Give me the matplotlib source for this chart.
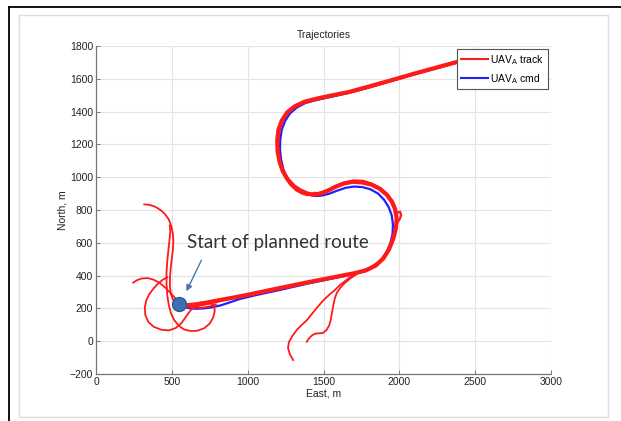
import matplotlib
matplotlib.use("Agg")
import matplotlib.pyplot as plt
from matplotlib.lines import Line2D

# ---- data (East, North in metres) ----
cmd_east = [548, 575, 610, 660, 710, 760, 820, 880, 950, 1050, 1200, 1400, 1600, 1700, 1780, 1840,
            1885, 1915, 1940, 1955, 1958, 1950, 1930, 1900, 1860, 1810, 1755, 1700, 1645, 1590,
            1540, 1490, 1450, 1410, 1370, 1330, 1290, 1258, 1235, 1220, 1213, 1215, 1225, 1248,
            1280, 1325, 1380, 1450, 1550, 1670, 1800, 1950, 2100, 2250, 2400]
cmd_north = [229, 212, 202, 198, 200, 206, 218, 236, 258, 280, 310, 352, 390, 408, 428, 455,
             495, 540, 595, 652, 712, 767, 817, 862, 900, 926, 940, 943, 935, 918,
             900, 888, 885, 892, 908, 928, 958, 1000, 1050, 1110, 1170, 1230, 1290, 1345,
             1390, 1425, 1452, 1470, 1490, 1515, 1547, 1588, 1628, 1666, 1704]

track1_east = [560, 600, 660, 720, 800, 900, 1000, 1200, 1400, 1600, 1700, 1780, 1845, 1895, 1932,
               1960, 1978, 1982, 1972, 1950, 1915, 1870, 1815, 1755, 1695, 1635, 1580, 1530, 1480,
               1435, 1395, 1350, 1305, 1265, 1232, 1210, 1197, 1195, 1203, 1225, 1260, 1310, 1375,
               1450, 1550, 1670, 1800, 1950, 2100, 2250, 2400, 2500]
track1_north = [225, 220, 224, 234, 248, 265, 283, 322, 360, 396, 414, 432, 462, 505, 560,
                625, 690, 750, 805, 852, 895, 930, 955, 968, 972, 962, 942, 918, 900,
                893, 900, 918, 945, 985, 1035, 1095, 1160, 1225, 1290, 1345, 1395, 1432, 1460,
                1478, 1498, 1520, 1553, 1592, 1632, 1670, 1708, 1732]

track2_east = [600, 660, 740, 850, 1000, 1200, 1400, 1600, 1720, 1810, 1875, 1920, 1950, 1970, 1985,
               2003, 2012, 2005, 1990, 1980, 1978, 1960, 1925, 1878, 1820, 1760, 1700, 1640, 1590,
               1545, 1500, 1460, 1440, 1420, 1395, 1360, 1320, 1280, 1245, 1220, 1205, 1200, 1207,
               1228, 1262, 1315, 1385, 1470, 1570, 1680, 1810, 1960, 2110, 2260, 2410, 2500]
track2_north = [212, 214, 228, 252, 278, 318, 356, 392, 418, 448, 492, 548, 610, 670, 720,
                745, 768, 790, 785, 770, 800, 845, 892, 932, 960, 978, 980, 968, 950,
                930, 912, 902, 905, 895, 890, 900, 920, 955, 1005, 1065, 1130, 1200, 1275,
                1340, 1392, 1432, 1458, 1476, 1496, 1518, 1550, 1590, 1630, 1668, 1706, 1728]

hook_east = [318, 350, 390, 425, 455, 480, 497, 507, 510, 507, 500, 493, 488, 487, 493, 507, 530,
             560, 620]
hook_north = [834, 832, 820, 800, 775, 742, 700, 655, 610, 560, 505, 450, 395, 340, 290, 255, 232,
              218, 214]

spike_east = [486, 490, 485, 478, 470, 465, 465, 470, 480, 495, 515, 545, 580, 625, 670, 715, 750,
              773, 783, 778, 755, 715, 665, 610, 565]
spike_north = [706, 670, 620, 560, 490, 420, 350, 280, 220, 168, 130, 95, 72, 62, 64, 80, 108,
               145, 185, 215, 232, 238, 232, 222, 225]

left_east = [245, 270, 300, 340, 380, 420, 455, 490, 520, 550, 585, 630, 690, 750, 790]
left_north = [357, 372, 382, 385, 375, 355, 328, 295, 265, 240, 220, 207, 203, 212, 225]

loop_east = [470, 440, 410, 380, 352, 332, 322, 325, 345, 380, 430, 480, 525, 565, 597, 625, 660, 720]
loop_north = [390, 375, 352, 322, 288, 250, 205, 160, 118, 88, 70, 66, 80, 112, 155, 190, 212, 228]

tail1_east = [1700, 1668, 1640, 1609, 1575, 1540, 1500, 1460, 1425, 1390, 1355, 1323, 1295, 1272,
              1266, 1278, 1300]
tail1_north = [402, 385, 365, 343, 312, 285, 250, 208, 168, 128, 98, 68, 32, -5, -40, -80, -115]

tail2_east = [1720, 1680, 1640, 1610, 1588, 1575, 1565, 1556, 1548, 1537, 1518, 1495, 1470, 1445,
              1425, 1405, 1390]
tail2_north = [410, 385, 355, 325, 295, 262, 220, 175, 130, 95, 66, 50, 48, 46, 36, 18, -3]

start_point = (548, 229)
arrow_tail = (703, 509)
annotation = "Start of planned route"
x_ticks = [0, 500, 1000, 1500, 2000, 2500, 3000]
y_ticks = [-200, 0, 200, 400, 600, 800, 1000, 1200, 1400, 1600, 1800]

# ---- figure ----
plt.rcParams['font.family'] = ['Liberation Sans', 'DejaVu Sans']
W, H = 621, 421
fig = plt.figure(figsize=(W / 100, H / 100), dpi=100)
fig.patch.set_facecolor('white')

def fx(px):
    return px / W

def fy(py):
    return 1 - py / H

# outer frame: black lines left/top, light grey inner rectangle
fig.add_artist(Line2D([fx(9), fx(9)], [fy(7), fy(421)], color='black', lw=1.3, transform=fig.transFigure))
fig.add_artist(Line2D([fx(9), fx(621)], [fy(7), fy(7)], color='black', lw=1.3, transform=fig.transFigure))
fig.add_artist(Line2D([fx(19), fx(608), fx(608), fx(19), fx(19)],
                      [fy(15), fy(15), fy(417), fy(417), fy(15)],
                      color='#dddddd', lw=1.0, transform=fig.transFigure))

ax = fig.add_axes([fx(96), fy(374), fx(551) - fx(96), fy(46) - fy(374)])
ax.set_xlim(0, 3000)
ax.set_ylim(-200, 1800)
ax.set_xticks(x_ticks)
ax.set_yticks(y_ticks)
ax.grid(True, color='#e3e3e3', lw=0.8)
ax.set_axisbelow(True)
for s in ['top', 'right']:
    ax.spines[s].set_visible(False)
for s in ['left', 'bottom']:
    ax.spines[s].set_color('#777777')
    ax.spines[s].set_linewidth(0.9)
ax.tick_params(direction='in', length=3, width=0.7, color='#777777', labelsize=7.5,
               labelcolor='#222222', pad=2)

red = '#ff1a1a'
blue = '#2020ff'
ax.plot(cmd_east, cmd_north, color=blue, lw=1.6, zorder=2, solid_joinstyle='round')
ax.plot(track1_east, track1_north, color=red, lw=3.0, solid_capstyle='round',
        solid_joinstyle='round', zorder=3)
ax.plot(track2_east, track2_north, color=red, lw=1.6, zorder=3, solid_joinstyle='round')
for xs, ys in [(hook_east, hook_north), (spike_east, spike_north), (left_east, left_north),
               (loop_east, loop_north), (tail1_east, tail1_north), (tail2_east, tail2_north)]:
    ax.plot(xs, ys, color=red, lw=1.3, zorder=3, solid_joinstyle='round')

ax.plot([start_point[0]], [start_point[1]], 'o', ms=10, color='#3e6fb0', mec='#2f5a93', zorder=5)
ax.annotate('', xy=(start_point[0] + 40, start_point[1] + 60), xytext=arrow_tail,
            arrowprops=dict(arrowstyle='-|>', color='#4a78a8', lw=1.0, mutation_scale=9), zorder=6)
ax.text(600, 568, annotation, fontsize=13.5, family=['Lato', 'DejaVu Sans'], color='#333333',
        ha='left', va='baseline', zorder=6)

ax.set_title('Trajectories', fontsize=7.5, color='#222222', pad=6)
ax.set_xlabel('East, m', fontsize=7.5, color='#222222', labelpad=1)
ax.set_ylabel('North, m', fontsize=7.5, color='#222222', labelpad=2)

handles = [Line2D([], [], color=red, lw=1.5), Line2D([], [], color=blue, lw=1.5)]
labels = [r'UAV$_{\mathrm{A}}$ track', r'UAV$_{\mathrm{A}}$ cmd']
leg = ax.legend(handles, labels, loc='upper right', fontsize=7.5, frameon=True, fancybox=False,
                edgecolor='#555555', framealpha=1, handlelength=2.6, handletextpad=0.2,
                borderaxespad=0.3, borderpad=0.35, labelspacing=0.5)
leg.get_frame().set_linewidth(0.8)
leg.set_zorder(10)

fig.savefig('out.png', dpi=100)
